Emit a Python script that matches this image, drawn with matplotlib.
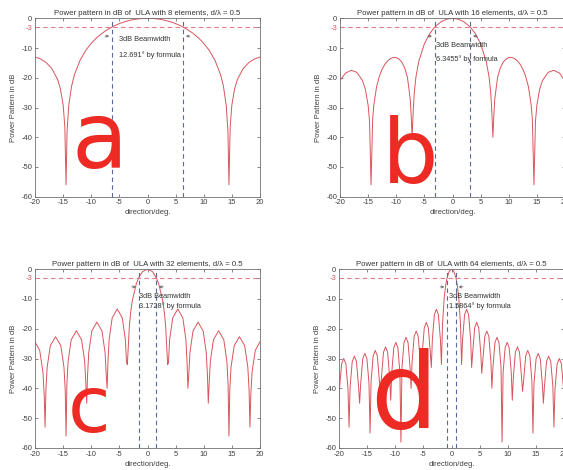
import matplotlib
matplotlib.use("Agg")
import matplotlib.pyplot as plt
import numpy as np

plt.rcParams['font.family'] = ['Liberation Sans', 'DejaVu Sans']
plt.rcParams['axes.unicode_minus'] = False

# Values (right half of each pattern, pattern is symmetric)
ang_a = [0, 1, 2, 3, 4, 5, 6, 6.35, 7, 8, 9, 10, 11, 12, 13, 13.5, 14, 14.3, 14.48,
         14.7, 15, 15.5, 16, 17, 18, 19, 20]
db_a = [0, -0.07, -0.27, -0.62, -1.12, -1.78, -2.62, -3.0, -3.66, -4.93, -6.48, -8.41,
        -10.85, -14.15, -19.04, -22.86, -29.33, -38.1, -56, -36.3, -29.1, -23.6, -20.5,
        -16.94, -14.9, -13.69, -13.0]

ang_b = [0, 1, 2, 3, 3.17, 4, 5, 6, 6.5, 6.8, 7, 7.18, 7.35, 7.5, 8, 8.5, 9, 9.5, 10,
         10.5, 11, 11.5, 12, 12.5, 13, 13.5, 14, 14.2, 14.48, 14.75, 15, 15.5, 16, 17,
         18, 19, 20]
db_b = [0, -0.28, -1.14, -2.66, -3.0, -5.0, -8.57, -14.53, -19.74, -25.07, -31.76, -40,
        -32.7, -27.43, -19.97, -16.66, -14.79, -13.72, -13.22, -13.18, -13.52, -14.25,
        -15.4, -17.07, -19.46, -23.04, -29.4, -34.2, -56, -34.6, -29.21, -23.81, -20.93,
        -18.18, -17.49, -18.4, -20.9]

ang_c = [0, 0.895, 1.585, 2.0, 2.687, 3.0, 3.225, 3.404, 3.583,
         3.727, 3.943, 4.483, 5.382, 6.282, 6.821, 7.037, 7.181,
         7.326, 7.544, 8.088, 8.994, 9.901, 10.444, 10.662, 10.807,
         10.954, 11.174, 11.725, 12.643, 13.56, 14.111, 14.331, 14.478,
         14.627, 14.851, 15.411, 16.344, 17.277, 17.836, 18.061, 18.21,
         18.362, 18.591, 19.163, 20.0]
db_c = [0, -0.9, -3.0, -5.03, -10.45, -14.61, -19.2, -25.6, -32,
        -31.4, -23.6, -16.4, -13.4, -16.4, -23.6, -31.4, -40,
        -35.8, -28.0, -20.8, -17.8, -20.8, -28.0, -35.8, -45,
        -38.7, -30.9, -23.7, -20.7, -23.7, -30.9, -38.7, -56,
        -40.7, -32.9, -25.7, -22.7, -25.7, -32.9, -40.7, -53,
        -42.3, -34.5, -27.3, -24.4]

ang_d = [0, 0.4, 0.793, 1.0, 1.3, 1.6, 1.7, 1.791,
         1.97, 2.329, 2.687, 3.045, 3.404, 3.583,
         3.763, 4.122, 4.481, 4.84, 5.199, 5.379,
         5.559, 5.92, 6.28, 6.64, 7.001, 7.181,
         7.362, 7.723, 8.085, 8.447, 8.808, 8.989,
         9.171, 9.534, 9.898, 10.262, 10.625, 10.807,
         10.99, 11.356, 11.722, 12.087, 12.453, 12.636,
         12.82, 13.189, 13.557, 13.925, 14.294, 14.478,
         14.664, 15.035, 15.406, 15.777, 16.148, 16.334,
         16.522, 16.897, 17.272, 17.647, 18.022, 18.21,
         18.4, 18.779, 19.159, 19.538, 19.917, 20.0]
db_d = [0, -0.72, -3.0, -5.03, -9.57, -18.62, -25.48, -32,
        -23.7, -15.3, -13.5, -15.3, -23.7, -33,
        -28.1, -19.7, -17.9, -19.7, -28.1, -35,
        -31.0, -22.6, -20.8, -22.6, -31.0, -40,
        -33.1, -24.7, -22.9, -24.7, -33.1, -58,
        -34.8, -26.4, -24.6, -26.4, -34.8, -44,
        -36.3, -27.9, -26.1, -27.9, -36.3, -41,
        -37.5, -29.1, -27.3, -29.1, -37.5, -55,
        -38.5, -30.1, -28.3, -30.1, -38.5, -45,
        -39.4, -31.0, -29.2, -31.0, -39.4, -53,
        -40.2, -31.8, -30.0, -31.8, -40.2, -45]

n_elements = [8, 16, 32, 64]
beamwidth = [12.691, 6.3455, 3.1728, 1.5864]
bw_text = ["12.691", "6.3455", "3.1728", "1.5864"]
letters = ["a", "b", "c", "d"]

angles = [ang_a, ang_b, ang_c, ang_d]
levels = [db_a, db_b, db_c, db_d]

W, H = 563, 470
fig = plt.figure(figsize=(W / 100, H / 100), dpi=100)

# axes boxes in pixels: left, top, right, bottom
boxes = [(35, 18.3, 260, 196.7), (340, 18.3, 565, 196.7),
         (35, 269, 260, 448), (339, 269, 564, 448)]
# text rows for the beamwidth note (dB), x start (deg)
note_y = [(-7.1, -12.4), (-9.2, -13.6), (-9.3, -12.4), (-9.3, -12.4)]
note_x = [-5.0, -2.9, -1.45, -0.5]
# handwritten letters: center x, baseline y (pixels), size
letter_pos = [(100, 168, 66), (410, 183, 64), (89, 432, 56), (404, 428, 76)]

curve_col = '#d9545c'
for i in range(4):
    l, t, r, b = boxes[i]
    ax = fig.add_axes([l / W, 1 - b / H, (r - l) / W, (b - t) / H])
    x = np.array(angles[i])
    y = np.array(levels[i])
    xx = np.concatenate([-x[::-1], x[1:]])
    yy = np.concatenate([y[::-1], y[1:]])
    ax.plot(xx, yy, color=curve_col, lw=0.7)

    ax.axhline(-3, color='#e57a8a', lw=0.8, ls=(0, (4, 3)))
    hw = beamwidth[i] / 2
    ax.axvline(-hw, color='#5a68a0', lw=0.8, ls=(0, (4, 3)))
    ax.axvline(hw, color='#5a68a0', lw=0.8, ls=(0, (4, 3)))
    ax.annotate('', xy=(-hw, -6), xytext=(-7, 0), textcoords='offset points',
                arrowprops=dict(arrowstyle='->', color='#555555', lw=0.5,
                                mutation_scale=4))
    ax.annotate('', xy=(hw, -6), xytext=(7, 0), textcoords='offset points',
                arrowprops=dict(arrowstyle='->', color='#555555', lw=0.5,
                                mutation_scale=4))
    ax.text(note_x[i], note_y[i][0], "3dB Beamwidth", fontsize=5.3, color='#333333',
            va='center')
    ax.text(note_x[i], note_y[i][1], bw_text[i] + "\u00b0 by formula", fontsize=5.3,
            color='#333333', va='center')

    ax.set_xlim(-20, 20)
    ax.set_ylim(-60, 0)
    ax.set_xticks(range(-20, 21, 5))
    ax.set_yticks([-60, -50, -40, -30, -20, -10, -3, 0])
    ax.set_yticklabels(['-60', '-50', '-40', '-30', '-20', '-10', '-3', '0'])
    ax.tick_params(direction='in', length=2.5, width=0.5, labelsize=5.5,
                   colors='#555555', labelcolor='#404040', top=True, right=True, pad=2)
    ax.get_yticklabels()[6].set_color('#d9545c')
    for s in ax.spines.values():
        s.set_color('#707070')
        s.set_linewidth(0.6)
    ax.set_title("Power pattern in dB of  ULA with %d elements, d/\u03bb = 0.5" % n_elements[i],
                 fontsize=5.6, color='#333333', pad=2.5)
    ax.set_xlabel("direction/deg.", fontsize=5.5, color='#404040', labelpad=2)
    ax.set_ylabel("Power Pattern in dB", fontsize=5.5, color='#404040', labelpad=3)

    cx, base, fs = letter_pos[i]
    fig.text(cx / W, 1 - base / H, letters[i], color='#ee2a24', fontsize=fs,
             ha='center', va='baseline', family='DejaVu Sans')

fig.savefig("out.png", dpi=100)
